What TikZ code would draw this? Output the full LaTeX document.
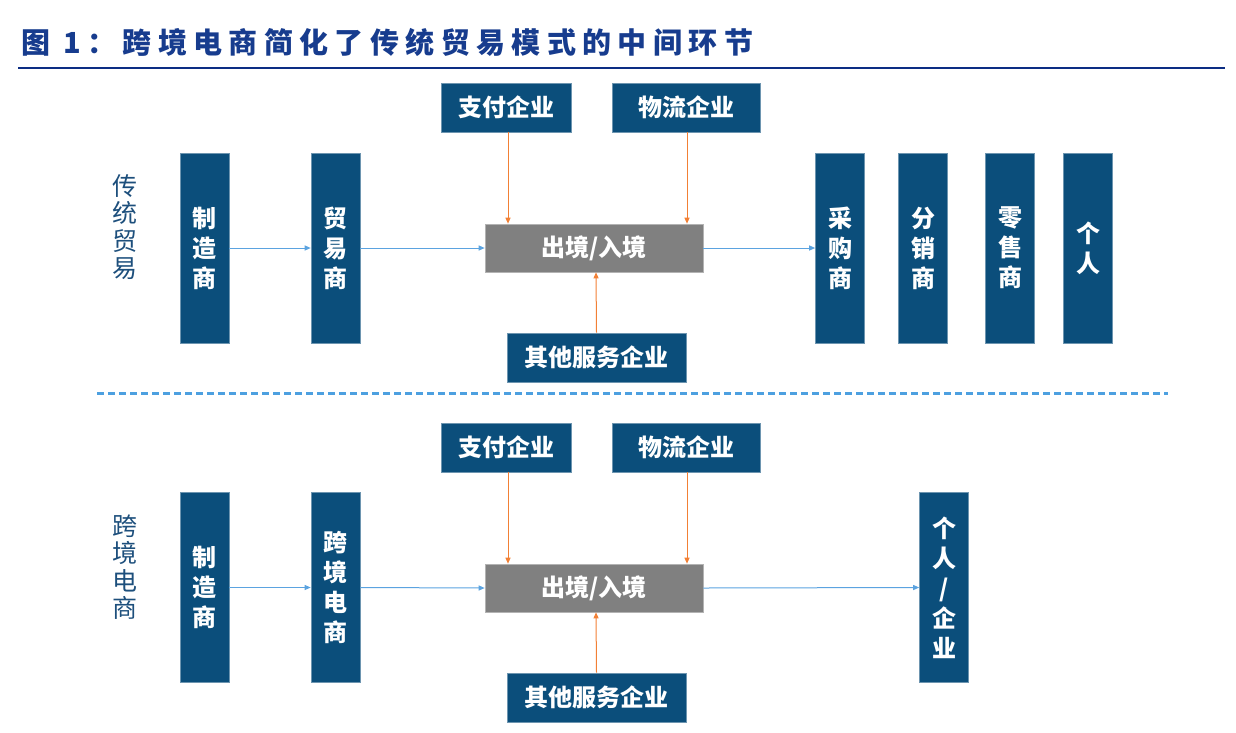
\documentclass[tikz,border=0pt]{standalone}
\usepackage{fontspec}
\usetikzlibrary{arrows.meta}
\newfontfamily\cjk{Noto Sans CJK SC}
\newfontfamily\cjktitle[LetterSpace=22]{Noto Sans CJK SC}
\definecolor{boxblue}{HTML}{0B4E7B}
\definecolor{graybox}{HTML}{808080}
\definecolor{arrblue}{HTML}{5BA3E0}
\definecolor{arrorange}{HTML}{F28035}
\definecolor{titleblue}{HTML}{173C8E}
\definecolor{lineblue}{HTML}{0C2D83}
\definecolor{sideblue}{HTML}{1D4F7C}
\definecolor{dashblue}{HTML}{4DA0E0}
\tikzset{
  bx/.style={fill=boxblue, draw=boxblue!60!white, line width=0.6pt, inner sep=0pt, text=white, align=center, font=\cjk\bfseries\fontsize{24}{30}\selectfont},
  vbox/.style={bx, minimum width=49pt, minimum height=190pt},
  hbox/.style={bx, minimum height=49pt},
  gbox/.style={fill=graybox, draw=graybox!60!white, line width=0.6pt, inner sep=0pt, text=white, font=\cjk\bfseries\fontsize{24}{28}\selectfont, minimum width=218pt, minimum height=48pt},
  barr/.style={draw=arrblue, line width=1pt, -{Triangle[length=6pt,width=5pt]}},
  oarr/.style={draw=arrorange, line width=1pt, -{Triangle[length=6pt,width=5pt]}},
  side/.style={text=sideblue, align=center, font=\cjk\fontsize{25}{27.5}\selectfont},
}
\begin{document}
\begin{tikzpicture}[x=1pt,y=-1pt]
\useasboundingbox (0,0) rectangle (1236,732);
% title
\node[anchor=west, text=titleblue, font=\cjktitle\bfseries\fontsize{29}{31}\selectfont, inner sep=0pt] (title) at (21,42) {图 1：跨境电商简化了传统贸易模式的中间环节};
\coordinate (tl) at (18,68);
\coordinate (tr) at (1225,68);
\draw[lineblue, line width=2.2pt] (tl) -- (tr);

% ===== top section =====
\node[side] (s1) at (125,227) {传\\统\\贸\\易};
\node[vbox] (a1) at (204.5,248) {制\\造\\商};
\node[vbox] (a2) at (335.5,248) {贸\\易\\商};
\node[gbox] (g1) at (594,248) {出境/入境};
\node[hbox, minimum width=130pt] (p1) at (506,107.5) {支付企业};
\node[hbox, minimum width=148pt] (l1) at (686,107.5) {物流企业};
\node[hbox, minimum width=179pt] (o1) at (596.5,357.5) {其他服务企业};
\node[vbox] (b1) at (840,248) {采\\购\\商};
\node[vbox] (b2) at (923,248.5) {分\\销\\商};
\node[vbox] (b3) at (1010,248) {零\\售\\商};
\node[vbox] (b4) at (1088,248) {个\\人};
\draw[barr] (a1.east) -- (a2.west);
\draw[barr] (a2.east) -- (g1.west);
\draw[barr] (g1.east) -- (b1.west);
\draw[oarr] (p1.south) ++(2,0) -- ([xshift=-86pt]g1.north);
\draw[oarr] (l1.south) ++(1,0) -- ([xshift=93pt]g1.north);
\draw[oarr] (o1.north) -- ([xshift=2pt]g1.south);

% dashed separator
\coordinate (dl) at (97,393);
\coordinate (dr) at (1168,393);
\draw[dashblue, line width=3pt, dash pattern=on 7pt off 4pt] (dl) -- (dr);

% ===== bottom section =====
\node[side] (s2) at (125,567) {跨\\境\\电\\商};
\node[vbox] (c1) at (204.5,587.5) {制\\造\\商};
\node[vbox] (c2) at (335.5,587.5) {跨\\境\\电\\商};
\node[gbox] (g2) at (594,588) {出境/入境};
\node[hbox, minimum width=130pt] (p2) at (506,447.5) {支付企业};
\node[hbox, minimum width=148pt] (l2) at (686,447.5) {物流企业};
\node[hbox, minimum width=179pt] (o2) at (596.5,697.5) {其他服务企业};
\node[vbox] (d1) at (944,587.5) {个\\人\\/\\企\\业};
\draw[barr] (c1.east) -- (c2.west);
\draw[barr] (c2.east) -- (g2.west);
\draw[barr] (g2.east) -- (d1.west);
\draw[oarr] (p2.south) ++(2,0) -- ([xshift=-86pt]g2.north);
\draw[oarr] (l2.south) ++(1,0) -- ([xshift=93pt]g2.north);
\draw[oarr] (o2.north) -- ([xshift=2pt]g2.south);
\end{tikzpicture}
\end{document}
